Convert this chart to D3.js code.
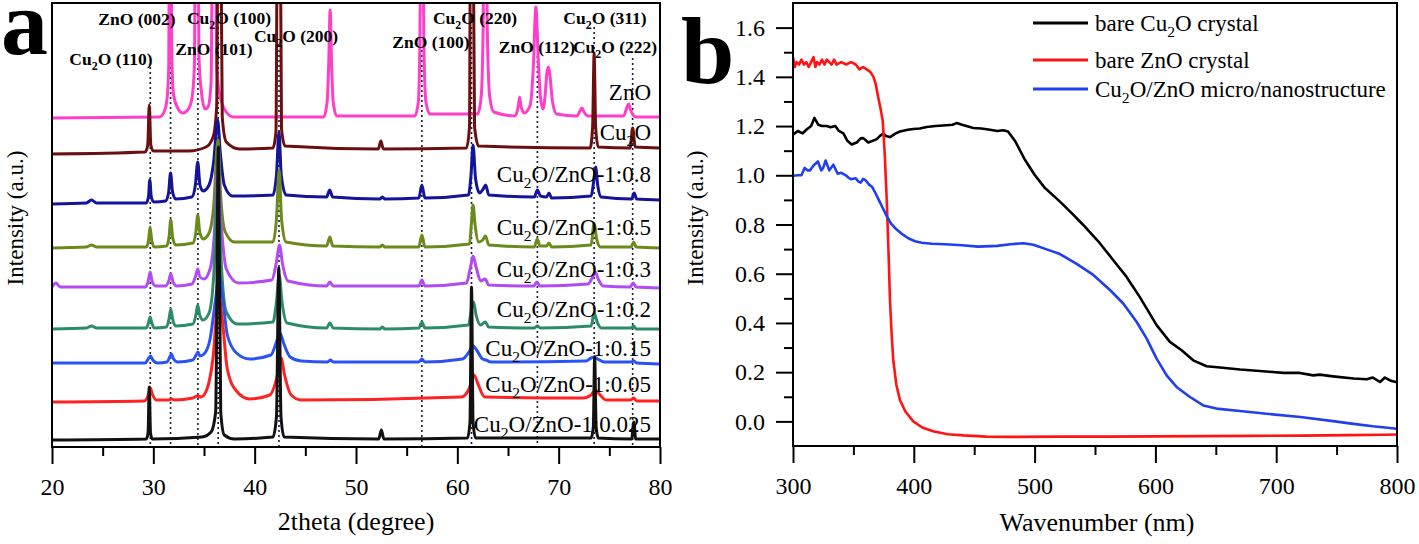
<!DOCTYPE html>
<html>
<head>
<meta charset="utf-8">
<script src="https://cdn.jsdelivr.net/npm/d3@7"></script>
<style>
body { margin: 0; background: #fff; }
svg { display: block; font-family: "Liberation Serif", "Times New Roman", serif; }
</style>
</head>
<body>
<script>
// ---- panel a: XRD patterns, [2theta, intensity incl. offset] ----
const xrdTicks = [20, 30, 40, 50, 60, 70, 80];
const xrdMinor = [25, 35, 45, 55, 65, 75];
const xrdNames = ["ZnO", "Cu2O", "Cu2O/ZnO-1:0.8", "Cu2O/ZnO-1:0.5", "Cu2O/ZnO-1:0.3",
                  "Cu2O/ZnO-1:0.2", "Cu2O/ZnO-1:0.15", "Cu2O/ZnO-1:0.05", "Cu2O/ZnO-1:0.025"];

const xrdZnO = [[20,329],[30.6,330],[31.1,336],[31.35,348],[31.52,380],[31.6,600],[31.72,600],[31.82,390],[32.0,352],[32.4,339],[32.9,334],[33.4,337],[33.8,348],[34.05,380],[34.2,600],[34.35,600],[34.5,390],[34.75,355],[35.1,338],[35.4,340],[35.7,365],[35.9,600],[36.05,600],[36.25,380],[36.6,350],[37.2,335],[37.9,330],[46.8,330],[47.15,345],[47.3,380],[47.45,437],[47.6,380],[47.75,345],[48.1,331],[55.8,331],[56.15,345],[56.3,400],[56.42,600],[56.55,600],[56.7,400],[56.9,345],[57.3,333],[62.0,333],[62.35,350],[62.55,420],[62.65,600],[62.8,600],[62.95,420],[63.2,350],[63.6,335],[65.7,331],[66.0,340],[66.15,350],[66.3,340],[66.6,334],[67.2,342],[67.5,380],[67.75,440],[68.0,385],[68.2,350],[68.45,338],[68.65,350],[68.85,375],[69.0,380],[69.15,370],[69.4,345],[69.8,333],[71.8,331],[72.15,337],[72.3,339],[72.5,335],[72.9,331],[76.4,331],[76.75,340],[76.9,343],[77.1,337],[77.6,330],[80,330]];
const xrdCu2O = [[20,293],[29.2,295],[29.45,302],[29.6,342],[29.75,302],[30.0,296],[33.5,296],[35.2,300],[35.9,310],[36.25,340],[36.42,600],[36.6,600],[36.8,330],[37.2,305],[38.5,298],[41.8,299],[42.1,315],[42.28,600],[42.48,600],[42.65,318],[43.0,301],[52.2,298],[52.45,306],[52.7,298],[60.9,299],[61.2,320],[61.32,600],[61.5,600],[61.7,320],[62.1,301],[73.1,299],[73.35,320],[73.5,394],[73.65,320],[73.9,300],[77.05,299],[77.3,319],[77.55,300],[80,299]];
const xrd08 = [[20,243],[23.4,244],[23.9,247],[24.4,244],[29.3,244],[29.52,250],[29.65,267],[29.8,250],[30.05,245],[31.2,246],[31.5,254],[31.7,274],[31.9,255],[32.2,248],[33.8,250],[34.15,262],[34.38,285],[34.6,262],[34.9,256],[35.5,262],[35.95,285],[36.35,327],[36.6,295],[37.0,262],[37.8,251],[41.8,252],[42.15,272],[42.4,315],[42.62,272],[43.1,252],[47.1,250],[47.4,257],[47.7,250],[52.35,248],[52.6,250],[52.85,248],[56.2,249],[56.5,262],[56.8,249],[61.1,252],[61.35,272],[61.55,302],[61.8,268],[62.2,254],[62.55,258],[62.8,262],[63.1,252],[67.6,250],[67.9,257],[68.2,251],[68.8,250],[69.05,254],[69.3,249],[73.2,251],[73.45,265],[73.65,280],[73.85,262],[74.2,250],[77.2,248],[77.45,254],[77.7,248],[80,247]];
const xrd05 = [[20,199],[23.4,200],[23.9,202],[24.4,200],[29.3,200],[29.52,206],[29.68,220],[29.85,206],[30.1,200],[31.3,201],[31.55,210],[31.72,227],[31.9,210],[32.2,202],[33.9,204],[34.2,215],[34.38,232],[34.58,215],[34.9,208],[35.5,214],[35.95,240],[36.38,307],[36.65,250],[37.1,215],[38.0,205],[41.8,205],[42.15,228],[42.42,277],[42.65,228],[43.1,205],[47.1,201],[47.42,210],[47.7,201],[52.35,200],[52.6,202],[52.85,200],[56.2,200],[56.5,212],[56.8,200],[61.2,203],[61.4,225],[61.55,242],[61.75,222],[62.1,205],[62.5,207],[62.78,211],[63.1,202],[67.6,200],[67.88,208],[68.15,201],[68.8,201],[69.05,204],[69.3,200],[73.2,202],[73.5,224],[73.75,208],[74.1,200],[77.15,200],[77.4,205],[77.65,200],[80,199]];
const xrd03 = [[20,160],[20.4,164],[20.8,160],[29.2,160],[29.5,166],[29.68,175],[29.9,165],[30.25,161],[31.2,161],[31.52,166],[31.72,173],[31.95,165],[32.3,161],[33.8,163],[34.15,170],[34.38,178],[34.6,170],[35.0,168],[35.6,178],[36.0,210],[36.35,277],[36.7,222],[37.2,178],[38.4,164],[41.7,167],[42.15,185],[42.45,202],[42.75,183],[43.3,166],[47.1,161],[47.42,165],[47.75,161],[56.2,161],[56.5,167],[56.8,161],[60.9,164],[61.3,180],[61.55,191],[61.85,180],[62.3,166],[62.75,168],[63.1,162],[67.55,161],[67.85,165],[68.15,161],[72.9,163],[73.35,170],[73.6,175],[73.9,168],[74.4,161],[77.05,160],[77.35,164],[77.65,160],[80,159]];
const xrd02 = [[20,118],[23.4,119],[23.9,121],[24.4,119],[29.3,119],[29.52,124],[29.68,130],[29.85,124],[30.1,119],[31.3,120],[31.55,128],[31.72,138],[31.9,128],[32.2,121],[33.9,123],[34.2,132],[34.38,142],[34.58,132],[34.9,127],[35.5,134],[35.95,170],[36.38,267],[36.7,185],[37.2,135],[38.3,123],[41.8,125],[42.15,145],[42.42,172],[42.7,145],[43.2,124],[47.1,119],[47.42,124],[47.75,119],[52.35,118],[52.6,120],[52.85,118],[56.2,119],[56.5,125],[56.8,119],[61.1,122],[61.4,138],[61.6,145],[61.85,132],[62.3,122],[62.75,125],[63.1,120],[67.6,119],[67.9,121],[68.2,119],[73.2,121],[73.5,134],[73.8,125],[74.2,119],[77.15,119],[77.4,121],[77.65,118],[80,118]];
const xrd015 = [[20,84],[29.2,84],[29.55,89],[29.72,91],[29.95,87],[30.4,84],[31.35,85],[31.62,90],[31.78,93],[32.0,88],[32.4,85],[33.9,87],[34.22,92],[34.4,95],[34.6,91],[35.0,93],[35.6,108],[36.15,148],[36.5,172],[36.85,148],[37.3,112],[38.2,94],[39.5,88],[41.6,92],[42.15,105],[42.5,114],[42.85,104],[43.5,90],[44.6,86],[47.2,85],[47.48,87],[47.75,85],[56.2,85],[56.5,88],[56.8,85],[60.5,88],[61.15,95],[61.55,101],[61.9,97],[62.5,88],[62.85,87],[63.3,85],[72.7,86],[73.2,89],[73.5,90],[73.85,88],[74.5,85],[77.1,85],[77.4,86],[77.7,84],[80,83]];
const xrd005 = [[20,45],[29.1,46],[29.5,52],[29.7,59],[29.9,53],[30.3,47],[31.5,47],[31.8,48],[32.1,47],[33.9,49],[34.35,51],[34.7,50],[35.3,58],[35.9,90],[36.45,152],[36.8,128],[37.3,78],[38.2,56],[39.5,48],[41.5,52],[42.2,70],[42.6,89],[42.95,72],[43.6,52],[44.6,47],[60.4,50],[61.15,58],[61.65,72],[62.0,64],[62.7,50],[72.4,49],[73.2,52],[73.65,57],[74.0,53],[74.7,47],[77.1,47],[77.4,49],[77.7,46],[80,46]];
const xrd0025 = [[20,7],[29.3,8],[29.48,14],[29.6,60],[29.72,14],[29.9,8],[34.8,10],[35.7,15],[36.15,35],[36.42,300],[36.65,35],[37.0,12],[38.0,8],[41.8,10],[42.15,30],[42.38,179],[42.6,30],[42.9,10],[52.25,8],[52.5,17],[52.75,8],[61.0,9],[61.25,25],[61.4,160],[61.55,25],[61.8,9],[73.2,9],[73.42,20],[73.55,90],[73.7,20],[73.9,9],[77.2,8],[77.42,25],[77.6,8],[80,8]];

const peakAngles = [29.7, 31.7, 34.4, 36.4, 42.4, 56.5, 61.4, 67.9, 73.5, 77.3];
const peakLabels = ["Cu2O (110)", "ZnO (002)", "ZnO (101)", "Cu2O (100)", "Cu2O (200)",
                    "ZnO (100)", "Cu2O (220)", "ZnO (112)", "Cu2O (311)", "Cu2O (222)"];

// ---- panel b: UV-vis spectra, [nm, intensity] ----
const uvXTicks = [300, 400, 500, 600, 700, 800];
const uvXMinor = [350, 450, 550, 650, 750];
const uvYTicks = [0, 0.2, 0.4, 0.6, 0.8, 1.0, 1.2, 1.4, 1.6];
const uvYMinor = [0.1, 0.3, 0.5, 0.7, 0.9, 1.1, 1.3, 1.5];
const uvNames = ["bare Cu2O crystal", "bare ZnO crystal", "Cu2O/ZnO micro/nanostructure"];

const uvCu2O = [[300,1.165],[304,1.18],[308,1.17],[311,1.185],[315,1.2],[317.7,1.233],[321,1.205],[324,1.2],[328,1.2],[331,1.195],[335,1.2],[338,1.18],[341.7,1.17],[345,1.14],[348.6,1.125],[352.7,1.133],[356,1.15],[358.2,1.151],[362.3,1.133],[366,1.14],[369.3,1.147],[372,1.16],[374.8,1.17],[377,1.16],[380.3,1.155],[385,1.17],[388.6,1.178],[395,1.185],[399.6,1.188],[405,1.19],[410.6,1.196],[418,1.2],[427.2,1.203],[432,1.205],[435.5,1.212],[440,1.205],[449.3,1.192],[456,1.19],[463.1,1.185],[469,1.18],[474,1.183],[478,1.178],[484,1.138],[492,1.063],[500,1.002],[508.6,0.948],[521,0.893],[530.7,0.846],[540.3,0.798],[554,0.724],[565,0.656],[576,0.588],[587,0.506],[601,0.391],[612,0.323],[621.7,0.289],[631.3,0.248],[642.4,0.224],[653.4,0.219],[670,0.211],[686.5,0.205],[705.8,0.197],[719.6,0.197],[730.7,0.187],[736,0.19],[747,0.183],[764,0.174],[775,0.171],[780,0.178],[786,0.16],[790,0.178],[795,0.165],[800,0.159]];
const uvZnO = [[300,1.48],[301.5,1.44],[303,1.46],[305,1.45],[307,1.47],[309,1.45],[311,1.46],[313,1.44],[315,1.46],[317,1.48],[318.5,1.44],[320,1.46],[322,1.45],[324,1.47],[326,1.45],[328,1.47],[330,1.46],[332,1.45],[334,1.47],[336,1.45],[340,1.46],[344,1.45],[348,1.46],[352,1.45],[355,1.43],[358,1.44],[361,1.43],[364,1.42],[366.6,1.40],[368.5,1.37],[370.4,1.32],[372.5,1.27],[374.3,1.22],[376,1.08],[377.6,0.9],[379,0.7],[380.3,0.49],[381.7,0.35],[383,0.25],[385.5,0.15],[388.6,0.086],[393,0.04],[399.6,0.0],[407,-0.025],[416,-0.04],[428,-0.052],[441,-0.057],[460,-0.062],[482,-0.063],[520,-0.062],[560,-0.062],[600,-0.061],[640,-0.06],[680,-0.059],[720,-0.058],[760,-0.056],[790,-0.054],[800,-0.053]];
const uvComposite = [[300,0.998],[304,1.0],[307,1.0],[309.6,1.03],[312,1.02],[314,1.02],[317,1.04],[320.6,1.056],[323.4,1.02],[325,1.03],[327,1.06],[330,1.02],[333.4,1.043],[337,1.006],[340,1.01],[343.8,1.0],[346,0.99],[347.9,0.984],[352,0.988],[354,0.975],[356,0.97],[358,0.985],[360,0.98],[363,0.962],[365.6,0.952],[368,0.93],[371,0.9],[374,0.87],[377.8,0.832],[381,0.805],[384.6,0.785],[390,0.762],[395.5,0.744],[401,0.732],[406.5,0.726],[415,0.722],[425.6,0.72],[440,0.716],[453,0.71],[469,0.713],[480,0.72],[490.7,0.724],[499,0.718],[510,0.699],[521,0.68],[534.8,0.64],[548.6,0.595],[562.4,0.534],[573.4,0.479],[584.4,0.405],[592.7,0.337],[601,0.255],[609.3,0.187],[617.5,0.14],[628.6,0.099],[639.6,0.065],[650.6,0.052],[670,0.042],[692,0.031],[720,0.018],[747,0.001],[764,-0.01],[780,-0.02],[790,-0.025],[800,-0.03]];

// ---- drawing ----
const svg = d3.select("body").append("svg")
    .attr("width", 1419)
    .attr("height", 544);

// writes "Cu2O" with a subscript 2
function chem(sel, str, size) {
    const parts = str.split("Cu2O");
    parts.forEach(function(p, i) {
        if (i > 0) {
            sel.append("tspan").text("Cu");
            sel.append("tspan").attr("font-size", size * 0.68).attr("dy", size * 0.28).text("2");
            sel.append("tspan").attr("dy", -size * 0.28).text("O");
        }
        if (p) sel.append("tspan").text(p);
    });
}

function styleAxis(g, fontSize) {
    g.attr("font-family", "'Liberation Serif', 'Times New Roman', serif")
        .attr("font-size", fontSize);
    g.select(".domain").remove();
    g.selectAll(".tick line").attr("stroke", "#000").attr("stroke-width", 2);
    g.selectAll(".tick text").attr("fill", "#000");
}

// ===== panel a =====
const ax = d3.scaleLinear().domain([20, 80]).range([52, 660]);
const ay = d3.scaleLinear().domain([0, 444]).range([447, 3]);

svg.append("clipPath").attr("id", "clipA")
    .append("rect").attr("x", 52).attr("y", 3).attr("width", 608).attr("height", 444);

// dotted reference lines
const dotTop = [67, 27, 58, 27, 45, 50, 27, 56, 27, 58];
svg.append("g").selectAll("line")
    .data(peakAngles)
    .enter().append("line")
    .attr("x1", d => ax(d)).attr("x2", d => ax(d))
    .attr("y1", (d, i) => dotTop[i]).attr("y2", 447)
    .attr("stroke", "#1b1b3a")
    .attr("stroke-width", 1.6)
    .attr("stroke-dasharray", "2,3");

const xrdSeries = [xrdZnO, xrdCu2O, xrd08, xrd05, xrd03, xrd02, xrd015, xrd005, xrd0025];
const xrdColors = ["#ff3ec9", "#6b1010", "#14149a", "#6b8a1c", "#b04cf2",
                   "#2e8b6a", "#2a52f5", "#ff2222", "#111111"];

const xrdLine = d3.line()
    .x(d => ax(d[0]))
    .y(d => ay(d[1]))
    .curve(d3.curveMonotoneX);

svg.append("g").attr("clip-path", "url(#clipA)")
    .selectAll("path")
    .data(xrdSeries)
    .enter().append("path")
    .attr("d", xrdLine)
    .attr("fill", "none")
    .attr("stroke", (d, i) => xrdColors[i])
    .attr("stroke-width", 3)
    .attr("stroke-linejoin", "round");

// peak labels
const labelPos = [[111, 65], [137, 25], [214, 55], [229, 24], [296, 42],
                  [431, 48], [475, 24], [537, 53], [605, 24], [615, 53]];
peakLabels.forEach(function(lab, i) {
    const t = svg.append("text")
        .attr("x", labelPos[i][0])
        .attr("y", labelPos[i][1])
        .attr("text-anchor", "middle")
        .attr("font-weight", "bold")
        .attr("font-size", 17.5);
    chem(t, lab, 17.5);
});

// trace labels
const traceY = [100, 140, 182, 235, 277, 317, 356, 392, 432];
xrdNames.forEach(function(name, i) {
    const t = svg.append("text")
        .attr("x", 651)
        .attr("y", traceY[i])
        .attr("text-anchor", "end")
        .attr("font-size", 23);
    chem(t, name, 23);
});

svg.append("rect")
    .attr("x", 52).attr("y", 3).attr("width", 608).attr("height", 444)
    .attr("fill", "none").attr("stroke", "#000").attr("stroke-width", 2);

svg.append("g")
    .attr("transform", "translate(0,447)")
    .call(d3.axisBottom(ax).tickValues(xrdTicks).tickSize(17).tickPadding(14).tickFormat(d3.format("d")))
    .call(g => styleAxis(g, 24));
svg.append("g")
    .attr("transform", "translate(0,447)")
    .call(d3.axisBottom(ax).tickValues(xrdMinor).tickSize(9).tickFormat(""))
    .call(g => styleAxis(g, 24));

svg.append("text")
    .attr("x", 356).attr("y", 530)
    .attr("text-anchor", "middle")
    .attr("font-size", 26)
    .text("2theta (degree)");

svg.append("text")
    .attr("transform", "translate(15,218) rotate(-90)")
    .attr("text-anchor", "middle")
    .attr("dy", "0.35em")
    .attr("font-size", 23)
    .text("Intensity (a.u.)");

svg.append("text")
    .attr("x", 1).attr("y", 54)
    .attr("font-weight", "bold")
    .attr("font-size", 94)
    .text("a");

// ===== panel b =====
const bx = d3.scaleLinear().domain([300, 800]).range([793, 1397]);
const by = d3.scaleLinear().domain([-0.1, 1.7]).range([446, 3]);

svg.append("clipPath").attr("id", "clipB")
    .append("rect").attr("x", 793).attr("y", 3).attr("width", 604).attr("height", 443);

const uvSeries = [uvCu2O, uvZnO, uvComposite];
const uvColors = ["#000000", "#ff1414", "#1f3ff0"];

const uvLine = d3.line()
    .x(d => bx(d[0]))
    .y(d => by(d[1]));

svg.append("g").attr("clip-path", "url(#clipB)")
    .selectAll("path")
    .data(uvSeries)
    .enter().append("path")
    .attr("d", uvLine)
    .attr("fill", "none")
    .attr("stroke", (d, i) => uvColors[i])
    .attr("stroke-width", 2.6)
    .attr("stroke-linejoin", "round");

svg.append("rect")
    .attr("x", 793).attr("y", 3).attr("width", 604).attr("height", 443)
    .attr("fill", "none").attr("stroke", "#000").attr("stroke-width", 2);

svg.append("g")
    .attr("transform", "translate(0,446)")
    .call(d3.axisBottom(bx).tickValues(uvXTicks).tickSize(17).tickPadding(14).tickFormat(d3.format("d")))
    .call(g => styleAxis(g, 24));
svg.append("g")
    .attr("transform", "translate(0,446)")
    .call(d3.axisBottom(bx).tickValues(uvXMinor).tickSize(9).tickFormat(""))
    .call(g => styleAxis(g, 24));
svg.append("g")
    .attr("transform", "translate(793,0)")
    .call(d3.axisLeft(by).tickValues(uvYTicks).tickSize(17).tickPadding(11).tickFormat(d3.format(".1f")))
    .call(g => styleAxis(g, 24));
svg.append("g")
    .attr("transform", "translate(793,0)")
    .call(d3.axisLeft(by).tickValues(uvYMinor).tickSize(9).tickFormat(""))
    .call(g => styleAxis(g, 24));

svg.append("text")
    .attr("x", 1097).attr("y", 531)
    .attr("text-anchor", "middle")
    .attr("font-size", 26)
    .text("Wavenumber (nm)");

svg.append("text")
    .attr("transform", "translate(695,218) rotate(-90)")
    .attr("text-anchor", "middle")
    .attr("dy", "0.35em")
    .attr("font-size", 23)
    .text("Intensity (a.u.)");

svg.append("text")
    .attr("x", 681).attr("y", 83)
    .attr("font-weight", "bold")
    .attr("font-size", 96)
    .text("b");

// legend
const legendY = [23, 60, 89];
uvNames.forEach(function(name, i) {
    svg.append("line")
        .attr("x1", 1033).attr("x2", 1088)
        .attr("y1", legendY[i]).attr("y2", legendY[i])
        .attr("stroke", uvColors[i])
        .attr("stroke-width", 3);
    const t = svg.append("text")
        .attr("x", 1095)
        .attr("y", legendY[i] + 8)
        .attr("font-size", 23);
    chem(t, name, 23);
});
</script>
</body>
</html>
